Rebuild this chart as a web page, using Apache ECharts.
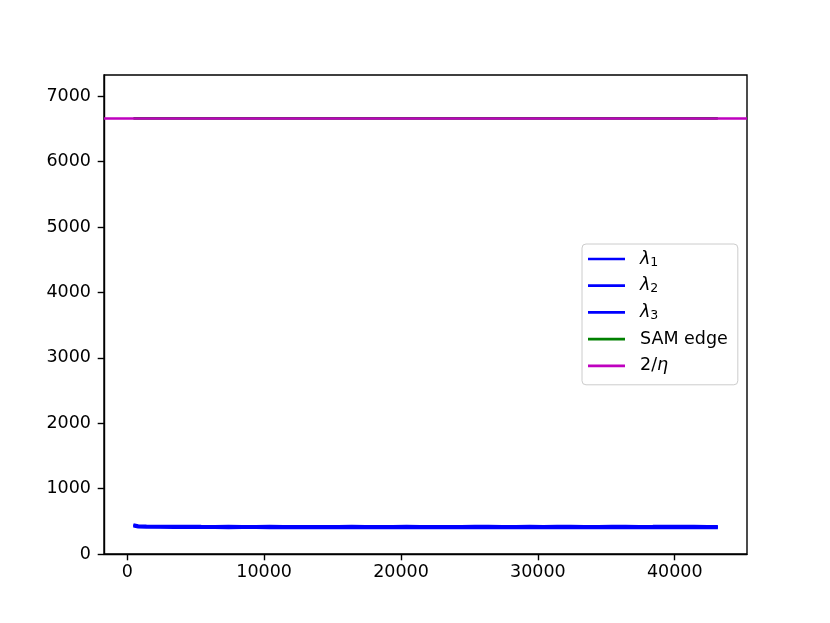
<!DOCTYPE html>
<html>
<head>
<meta charset="utf-8">
<script src="https://cdn.jsdelivr.net/npm/echarts@6/dist/echarts.min.js"></script>
<style>
  html, body { margin: 0; padding: 0; background: #fff; }
  #chart { width: 830px; height: 623px; }
</style>
</head>
<body>
<div id="chart"></div>
<script>
// training step of each sample
const steps = [450, 800, 1400, 2400, 3400, 4400, 5400, 6400, 7400, 8400, 9400, 10400, 11400, 12400, 13400, 14400,
  15400, 16400, 17400, 18400, 19400, 20400, 21400, 22400, 23400, 24400, 25400, 26400, 27400, 28400, 29400,
  30400, 31400, 32400, 33400, 34400, 35400, 36400, 37400, 38400, 39400, 40400, 41400, 42400, 43150]
// top three hessian eigenvalues
const lambda1 = [450, 434, 430, 428, 426, 427, 425, 424, 426, 423, 424, 425, 423, 424, 422, 424, 423, 425, 424, 422, 423,
  425, 424, 423, 421, 424, 426, 425, 424, 423, 425, 424, 426, 425, 423, 424, 425, 426, 424, 425, 427, 426, 425, 424, 424]
const lambda2 = [438, 421, 418, 415, 414, 413, 414, 412, 413, 411, 413, 412, 413, 412, 411, 412, 413, 412, 411, 412, 413,
  411, 412, 411, 410, 412, 413, 412, 413, 411, 412, 413, 412, 411, 412, 413, 412, 413, 412, 411, 413, 412, 413, 412, 412]
const lambda3 = [426, 410, 407, 405, 404, 403, 402, 403, 401, 402, 403, 401, 402, 401, 400, 402, 401, 402, 400, 401, 402,
  401, 400, 401, 399, 401, 402, 401, 402, 400, 401, 402, 401, 400, 401, 402, 401, 402, 401, 400, 402, 401, 402, 401, 401]
// SAM edge, hidden under the 2/eta line
const samSteps = [450, 10400, 20400, 30400, 43150]
const samEdge = [6662, 6662, 6662, 6662, 6662]
const twoOverEta = 6667

const xTicks = [0, 10000, 20000, 30000, 40000]
const yTicks = [0, 1000, 2000, 3000, 4000, 5000, 6000, 7000]

const font = 'DejaVu Sans'
const pair = (xs, ys) => xs.map((x, i) => [x, ys[i]])

const lineSeries = (name, data, color) => ({
  name: name,
  type: 'line',
  data: data,
  symbol: 'none',
  color: color,
  lineStyle: { width: 2.7, color: color },
  animation: false
})

const myChart = echarts.init(document.getElementById('chart'))

const option = {
  animation: false,
  backgroundColor: '#fff',
  grid: {
    left: 104, right: 83, top: 75, bottom: 69,
    show: true, borderColor: '#000', borderWidth: 1.4, backgroundColor: 'transparent'
  },
  xAxis: {
    type: 'value',
    min: -1700,
    max: 45280,
    axisLine: { show: true, onZero: false, lineStyle: { color: '#000', width: 1.4 } },
    axisTick: { show: true, length: 6.3, customValues: xTicks, lineStyle: { color: '#000', width: 1.4 } },
    axisLabel: {
      customValues: xTicks, margin: 9, color: '#000', fontFamily: font, fontSize: 17.5,
      formatter: v => String(v)
    },
    splitLine: { show: false }
  },
  yAxis: {
    type: 'value',
    min: 0,
    max: 7325,
    axisLine: { show: true, onZero: false, lineStyle: { color: '#000', width: 1.4 } },
    axisTick: { show: true, length: 6.3, customValues: yTicks, lineStyle: { color: '#000', width: 1.4 } },
    axisLabel: {
      customValues: yTicks, margin: 13, color: '#000', fontFamily: font, fontSize: 17.5,
      formatter: v => String(v)
    },
    splitLine: { show: false }
  },
  legend: {
    orient: 'vertical',
    left: 582,
    top: 244,
    padding: [5, 10, 9, 6],
    itemGap: 6.7,
    itemWidth: 37,
    itemHeight: 2.7,
    icon: 'rect',
    backgroundColor: '#fff',
    borderColor: '#cccccc',
    borderWidth: 1,
    borderRadius: 4,
    data: ['l1', 'l2', 'l3', 'SAM edge', 'eta'],
    formatter: function (name) {
      if (name === 'l1') return '{i|λ}{s|1}'
      if (name === 'l2') return '{i|λ}{s|2}'
      if (name === 'l3') return '{i|λ}{s|3}'
      if (name === 'eta') return '{n|2/}{i|η}'
      return '{n|' + name + '}'
    },
    textStyle: {
      color: '#000',
      fontFamily: font,
      fontSize: 17.5,
      lineHeight: 20,
      padding: [0, 0, 0, 10],
      rich: {
        n: { fontFamily: font, fontSize: 17.5, lineHeight: 20, color: '#000' },
        i: { fontFamily: font, fontSize: 17.5, fontStyle: 'italic', lineHeight: 20, color: '#000' },
        s: { fontFamily: font, fontSize: 12.5, lineHeight: 12, verticalAlign: 'bottom', color: '#000' }
      }
    }
  },
  series: [
    lineSeries('l1', pair(steps, lambda1), '#0000ff'),
    lineSeries('l2', pair(steps, lambda2), '#0000ff'),
    lineSeries('l3', pair(steps, lambda3), '#0000ff'),
    lineSeries('SAM edge', pair(samSteps, samEdge), '#008000'),
    {
      name: 'eta',
      type: 'line',
      data: [],
      color: '#bf00bf',
      z: 10,
      lineStyle: { width: 2.7, color: '#bf00bf' },
      markLine: {
        silent: true,
        z: 10,
        symbol: ['none', 'none'],
        label: { show: false },
        lineStyle: { color: '#bf00bf', width: 2.7, type: 'solid' },
        data: [{ yAxis: twoOverEta }]
      }
    }
  ]
}
option && myChart.setOption(option)
</script>
</body>
</html>
